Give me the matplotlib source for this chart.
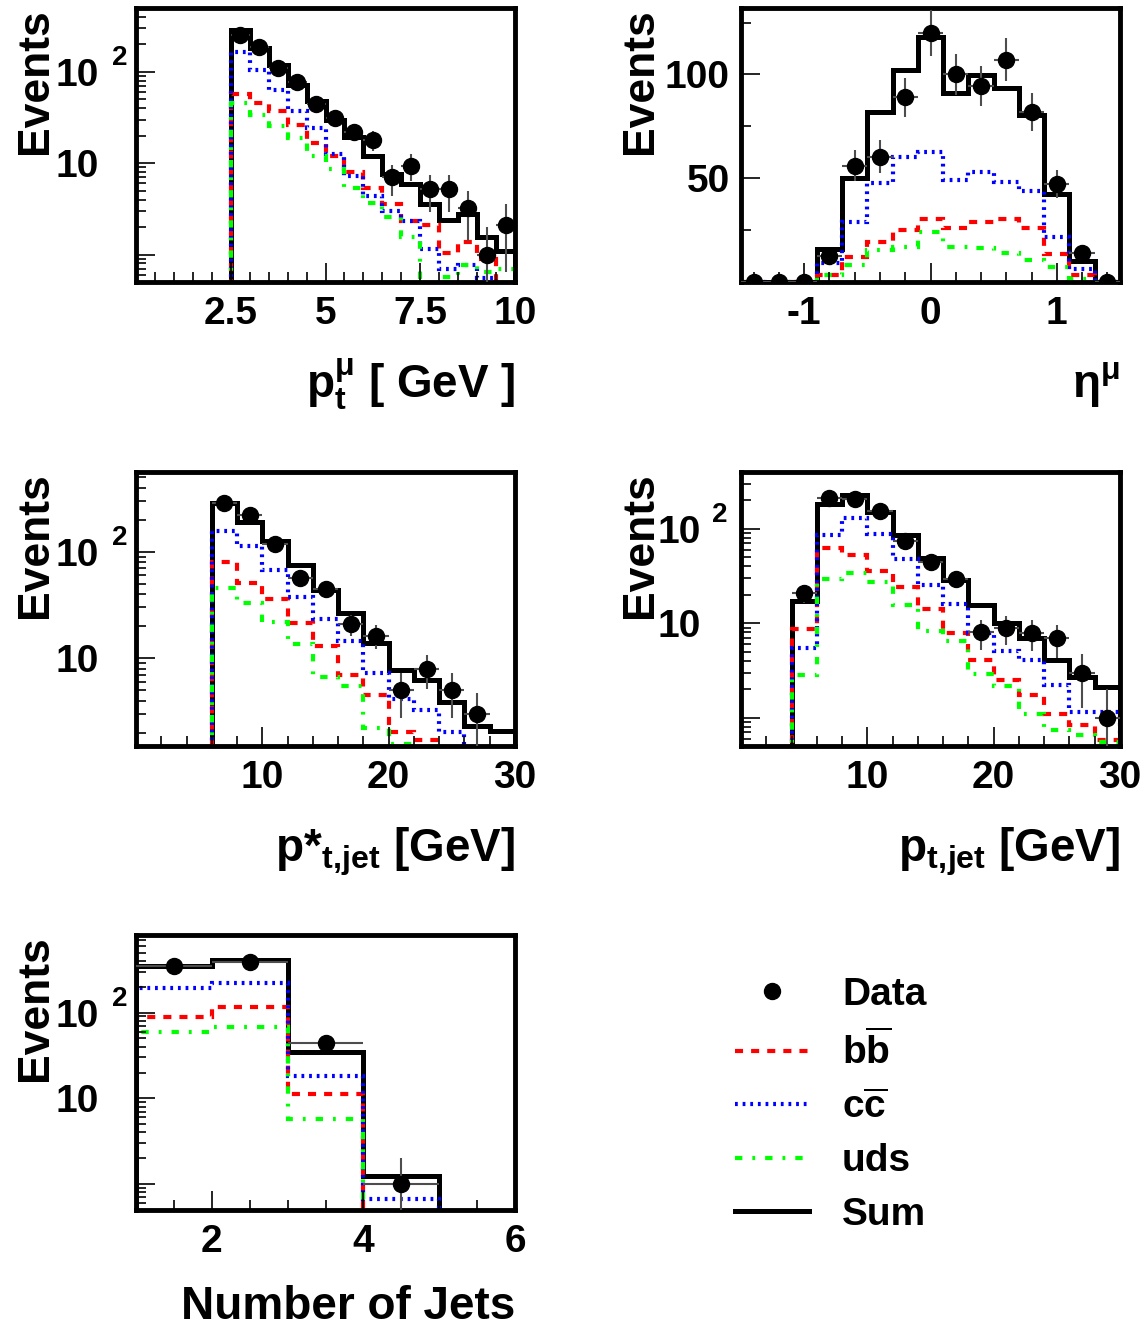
import numpy as np
import matplotlib
matplotlib.use("Agg")
import matplotlib.pyplot as plt
from matplotlib.lines import Line2D
from matplotlib.ticker import FixedLocator, FixedFormatter, MultipleLocator, LogLocator, NullFormatter

plt.rcParams['font.family'] = ['Liberation Sans', 'DejaVu Sans']
plt.rcParams['font.weight'] = 'bold'
plt.rcParams['mathtext.fontset'] = 'custom'
plt.rcParams['mathtext.rm'] = 'Liberation Sans'
plt.rcParams['mathtext.bf'] = 'Liberation Sans:bold'
plt.rcParams['mathtext.it'] = 'Liberation Sans:italic'
plt.rcParams['lines.scale_dashes'] = False

# muon pt, 0.5 GeV bins from 2.5 to 10
pt_edges = np.arange(2.5, 10.01, 0.5)
pt_data = [252, 188, 110, 78, 45, 31, 22, 18, 7.0, 9.4, 5.2, 5.2, 3.2, 1.0, 2.1]
pt_sum = [286, 181, 119, 72, 47.5, 30, 19.4, 12, 7.6, 5.9, 3.6, 2.4, 2.8, 1.56, 1.1]
pt_bb = [57.7, 45.7, 37, 25.9, 16.8, 12.0, 8.0, 5.4, 3.6, 2.3, 2.1, 1.03, 1.37, 0.9, 0]
pt_cc = [166, 105, 64, 37, 24.4, 12.5, 7.3, 4.4, 3.0, 2.3, 1.16, 0.70, 0.77, 0.55, 0]
pt_uds = [46, 34, 25.4, 19, 12.0, 8.7, 5.4, 3.7, 2.6, 1.56, 0, 0.57, 0.77, 0.65, 0.7]

# muon eta, 0.2 bins from -1.5 to 1.5
eta_edges = np.linspace(-1.5, 1.5, 16)
eta_data = [0, 0, 0, 12.3, 56, 60.4, 89, 120, 100, 94.4, 107, 82, 47.3, 13.9, 0]
eta_sum = [0, 0, 0, 15.9, 50, 82, 102, 118, 91, 99.7, 93.3, 80.4, 42.5, 10.2, 0]
eta_bb = [0, 0, 0, 3.5, 12, 19.5, 25, 30.4, 25.8, 29, 30.3, 25.8, 13.6, 3.5, 0]
eta_cc = [0, 0, 0, 9.1, 29, 47.6, 60, 62.8, 49.2, 53, 48.4, 43.6, 21.6, 6.3, 0]
eta_uds = [0, 0, 0, 3.3, 8.3, 15.2, 16.8, 24.3, 16.8, 16.5, 13.9, 10.7, 7.2, 1.4, 0]

# jet pt in Breit frame, 2 GeV bins from 6 to 30
pst_edges = np.arange(6, 30.1, 2)
pst_data = [284, 221, 117, 57, 44.4, 20.9, 16.3, 5.0, 7.9, 5.0, 3.0, 0]
pst_sum = [288, 191, 126, 75, 43.8, 26.5, 13.8, 7.8, 6.3, 3.9, 2.3, 2.06]
pst_bb = [80.6, 50.6, 35.8, 21.6, 12.9, 6.9, 4.5, 2.05, 1.7, 0, 0, 0]
pst_cc = [156, 113, 68, 37.8, 23.2, 14.4, 7.2, 4.1, 3.3, 2.05, 0, 0]
pst_uds = [45.4, 33.3, 22, 13.6, 6.7, 5.5, 2.2, 1.56, 0, 0, 0, 0]

# jet pt in lab frame, 2 GeV bins from 4 to 30
pjet_edges = np.arange(4, 30.1, 2)
pjet_data = [20.8, 210, 208, 154, 75, 44.6, 29.4, 8.1, 8.9, 7.9, 6.9, 3.0, 0.99]
pjet_sum = [17, 185, 226, 152, 87, 49, 28.9, 15.7, 10, 6.9, 4.1, 2.7, 2.1]
pjet_bb = [8.6, 63, 53, 35.4, 24, 14.2, 7.8, 4.1, 2.5, 1.73, 1.08, 0.83, 0.58]
pjet_cc = [5.5, 87, 131, 88.5, 48, 25.4, 15.9, 7.8, 5.1, 4.1, 2.2, 1.15, 1.15]
pjet_uds = [2.8, 29.6, 34, 27.3, 15.6, 8.3, 6.5, 2.9, 2.15, 1.1, 0.73, 0.65, 0.55]

# number of jets
nj_edges = np.arange(1, 6.1, 1)
nj_data = [349, 389, 43.6, 1.0, 0]
nj_sum = [349, 406, 35, 1.23, 0]
nj_bb = [89, 116, 11.2, 0, 0]
nj_cc = [195, 219, 18.4, 0.68, 0]
nj_uds = [59.6, 67, 5.8, 0, 0]

RED = '#ff0000'
BLUE = '#0000ff'
GREEN = '#00ff00'
LS_BB = (0, (5.8, 5.8))
LS_CC = (0, (2.0, 3.5))
LS_UDS = (0, (5.3, 7.2, 2.0, 7.2))

W, H = 1146, 1327
fig = plt.figure(figsize=(W / 100, H / 100), dpi=100)


def px_axes(l, t, r, b):
    return fig.add_axes([l / W, 1 - b / H, (r - l) / W, (b - t) / H])


def draw_hist(ax, edges, data, s, bb, cc, uds, log=True):
    edges = np.asarray(edges, float)
    centers = 0.5 * (edges[1:] + edges[:-1])
    half = 0.5 * np.diff(edges)
    base = 1e-3 if log else 0
    ax.stairs(s, edges, baseline=base, color='black', lw=3.6)
    ax.stairs(bb, edges, baseline=base, color=RED, lw=3, ls=LS_BB)
    ax.stairs(cc, edges, baseline=base, color=BLUE, lw=3, ls=LS_CC)
    ax.stairs(uds, edges, baseline=base, color=GREEN, lw=3, ls=LS_UDS)
    data = np.asarray(data, float)
    m = data > 0 if log else np.ones(len(data), bool)
    ax.errorbar(centers[m], data[m], xerr=half[m], yerr=np.sqrt(data[m]), fmt='o',
                color='black', ms=11.5, ecolor='0.3', elinewidth=1.5, capsize=0, zorder=5)


def style(ax, xlim, ylim, xmajor, xlabels, xminor, xtitle, log=True, ypad=27, sup_dx=-17,
          title_y=-0.42):
    ax.set_xlim(*xlim)
    if log:
        ax.set_yscale('log')
    ax.set_ylim(*ylim)
    for sp in ax.spines.values():
        sp.set_linewidth(3.5)
    ax.xaxis.set_major_locator(FixedLocator(xmajor))
    ax.xaxis.set_major_formatter(FixedFormatter(xlabels))
    ax.xaxis.set_minor_locator(MultipleLocator(xminor))
    if log:
        ax.yaxis.set_major_locator(FixedLocator([1, 10, 100]))
        ax.yaxis.set_major_formatter(FixedFormatter(['', '10', '10']))
        ax.yaxis.set_minor_locator(LogLocator(base=10, subs=np.arange(2, 10)))
        ax.yaxis.set_minor_formatter(NullFormatter())
        ax.annotate('2', xy=(0, 100), xycoords=('axes fraction', 'data'),
                    xytext=(sup_dx, 5), textcoords='offset points',
                    ha='left', va='baseline', fontsize=20)
    ax.tick_params(which='both', direction='in', top=False, right=False, width=1.2)
    ax.tick_params(which='major', length=14)
    ax.tick_params(which='minor', length=7)
    ax.tick_params(axis='x', which='major', labelsize=28, pad=10)
    ax.tick_params(axis='y', which='major', labelsize=28, pad=ypad)
    ax.text(-0.235, 1.0, 'Events', transform=ax.transAxes, rotation=90,
            rotation_mode='anchor', ha='right', va='baseline', fontsize=32)
    ax.text(1.0, title_y, xtitle, transform=ax.transAxes, ha='right', va='baseline', fontsize=33)


ax1 = px_axes(136, 8, 515, 282)
draw_hist(ax1, pt_edges, pt_data, pt_sum, pt_bb, pt_cc, pt_uds)
style(ax1, (0, 10), (0.5, 500), [0, 2.5, 5, 7.5, 10], ['', '2.5', '5', '7.5', '10'], 0.5,
      r'$\mathbf{p}_{\mathbf{t}}^{\mathrm{\mu}}$ [ GeV ]')

ax2 = px_axes(741, 8, 1120, 282)
draw_hist(ax2, eta_edges, eta_data, eta_sum, eta_bb, eta_cc, eta_uds, log=False)
style(ax2, (-1.5, 1.5), (0, 132), [-1, 0, 1], ['-1', '0', '1'], 0.2,
      r'$\mathrm{\eta}^{\mathrm{\mu}}$', log=False, ypad=8)
ax2.yaxis.set_major_locator(FixedLocator([50, 100]))
ax2.yaxis.set_major_formatter(FixedFormatter(['50', '100']))
ax2.yaxis.set_minor_locator(FixedLocator([25, 75, 125]))

ax3 = px_axes(136, 472, 515, 746)
draw_hist(ax3, pst_edges, pst_data, pst_sum, pst_bb, pst_cc, pst_uds)
style(ax3, (0, 30), (1.5, 560), [0, 10, 20, 30], ['', '10', '20', '30'], 2,
      r'p*$_{\mathbf{t,\!jet}}$ [GeV]')

ax4 = px_axes(741, 472, 1120, 746)
draw_hist(ax4, pjet_edges, pjet_data, pjet_sum, pjet_bb, pjet_cc, pjet_uds)
style(ax4, (0, 30), (0.5, 400), [0, 10, 20, 30], ['', '10', '20', '30'], 2,
      r'$\mathbf{p}_{\mathbf{t,\!jet}}$ [GeV]', ypad=29, sup_dx=-21)

ax5 = px_axes(136, 935, 515, 1210)
draw_hist(ax5, nj_edges, nj_data, nj_sum, nj_bb, nj_cc, nj_uds)
style(ax5, (1, 6), (0.5, 800), [2, 4, 6], ['2', '4', '6'], 0.5, 'Number of Jets',
      title_y=-0.395)

handles = [
    Line2D([], [], marker='o', ls='none', color='black', ms=11.5),
    Line2D([], [], color=RED, lw=3, ls=LS_BB),
    Line2D([], [], color=BLUE, lw=3, ls=LS_CC),
    Line2D([], [], color=GREEN, lw=3, ls=LS_UDS),
    Line2D([], [], color='black', lw=3.6),
]
labels = ['Data', r'$\mathbf{b}\overline{\mathbf{b}}$', r'$\mathbf{c}\overline{\mathbf{c}}$', 'uds', 'Sum']
fig.legend(handles, labels, loc='upper left', bbox_to_anchor=(735 / W, 1 - 977 / H),
           frameon=False, fontsize=28, handlelength=1.9, handletextpad=0.85,
           labelspacing=0.45, borderpad=0, borderaxespad=0)

fig.savefig('out.png', dpi=100)
